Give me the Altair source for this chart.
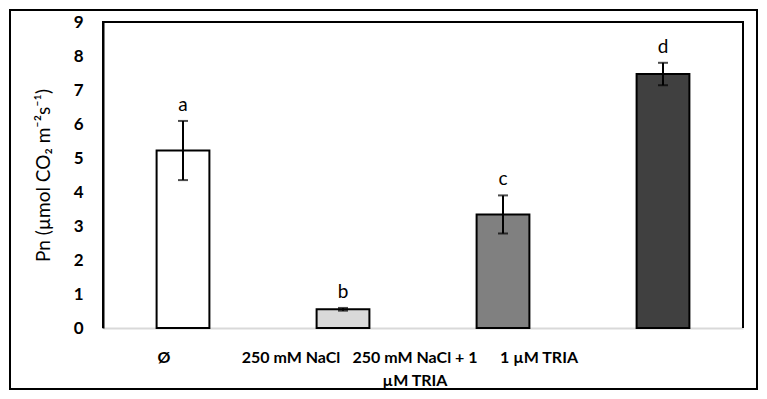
import altair as alt
import pandas as pd

categories = ["Ø", "250 mM NaCl", "250 mM NaCl + 1 µM TRIA", "1 µM TRIA"]
means = [5.22, 0.55, 3.34, 7.47]
errors = [0.87, 0.04, 0.56, 0.33]
letters = ["a", "b", "c", "d"]
fills = ["#ffffff", "#d9d9d9", "#808080", "#404040"]
y_ticks = [0, 1, 2, 3, 4, 5, 6, 7, 8, 9]

df = pd.DataFrame({
    "cat": categories,
    "mean": means,
    "err": errors,
    "letter": letters,
})
df["lo"] = df["mean"] - df["err"]
df["hi"] = df["mean"] + df["err"]

FONT = "Lato"

label_expr = ("datum.label == '250 mM NaCl + 1 µM TRIA' ? "
              "['250 mM NaCl + 1', 'µM TRIA'] : datum.label")

x_axis = alt.Axis(
    title=None,
    labelAngle=0,
    labelExpr=label_expr,
    labelFont=FONT,
    labelFontWeight="bold",
    labelFontSize=16,
    labelColor="#000000",
    labelPadding=21,
    labelLineHeight=23,
    labelOverlap=False,
    labelOffset={
        "condition": [
            {"test": "datum.value == 'Ø'", "value": -19},
            {"test": "datum.value == '250 mM NaCl'", "value": -52},
            {"test": "datum.value == '250 mM NaCl + 1 µM TRIA'", "value": -88},
        ],
        "value": -124,
    },
    ticks=False,
    domainColor="#d9d9d9",
    domainWidth=2,
)
x_scale = alt.Scale(paddingInner=0.67, paddingOuter=0.335)

y_axis = alt.Axis(
    title="Pn (µmol CO₂ m⁻²s⁻¹)",
    titleFont=FONT,
    titleFontSize=19,
    titleFontWeight="normal",
    titleColor="#000000",
    titlePadding=20,
    values=y_ticks,
    labelOverlap=False,
    labelFont=FONT,
    labelFontWeight="bold",
    labelFontSize=17,
    labelColor="#000000",
    labelPadding=20,
    ticks=False,
    grid=False,
    domain=True,
    domainColor="#000000",
    domainWidth=2,
)
y_scale = alt.Scale(domain=[0, 9], nice=False)


def xe():
    return alt.X("cat:N", sort=categories, scale=x_scale, axis=x_axis)


def ye(field):
    return alt.Y(field, type="quantitative", scale=y_scale, axis=y_axis)


# plot-area frame (top, right, left) as thin filled rectangles, drawn first
one = df[df["letter"] == "a"]
frame_top = alt.Chart(one).mark_rect(fill="#000000", strokeWidth=0, clip=False).encode(
    x=alt.value(-1), x2=alt.value(641), y=alt.value(-1), y2=alt.value(1)
)
frame_right = alt.Chart(one).mark_rect(fill="#000000", strokeWidth=0, clip=False).encode(
    x=alt.value(639), x2=alt.value(641), y=alt.value(-1), y2=alt.value(306)
)
frame_left = alt.Chart(one).mark_rect(fill="#000000", strokeWidth=0, clip=False).encode(
    x=alt.value(-1), x2=alt.value(1), y=alt.value(-1), y2=alt.value(306)
)

bars = alt.Chart(df).mark_bar(stroke="#000000", strokeWidth=2).encode(
    x=xe(),
    y=ye("mean"),
    fill=alt.Fill("cat:N", scale=alt.Scale(domain=categories, range=fills), legend=None),
)

rules = alt.Chart(df).mark_rule(color="#000000", strokeWidth=2).encode(
    x=xe(), y=ye("lo"), y2="hi:Q",
)

caps_hi = alt.Chart(df).mark_tick(color="#000000", thickness=2, size=10, orient="horizontal").encode(
    x=xe(), y=ye("hi"),
)
caps_lo = alt.Chart(df).mark_tick(color="#000000", thickness=2, size=10, orient="horizontal").encode(
    x=xe(), y=ye("lo"),
)

text = alt.Chart(df).mark_text(
    font=FONT, fontSize=19, color="#000000", baseline="bottom", dy=-6
).encode(
    x=xe(), y=ye("hi"), text="letter:N",
)

# decorative outer border
border = alt.Chart(one).mark_rect(
    fill=None, stroke="#000000", strokeWidth=2, clip=False
).encode(
    x=alt.value(-93), x2=alt.value(654), y=alt.value(-12), y2=alt.value(367)
)

chart = alt.layer(frame_top, frame_right, frame_left, bars, rules, caps_hi, caps_lo, text, border).properties(
    width=640,
    height=306,
    autosize=alt.AutoSizeParams(type="none"),
    padding={"left": 95, "top": 14, "right": 16, "bottom": 63},
    background="#ffffff",
).configure_view(stroke=None)

chart.save("out.html", embed_options={"renderer": "svg", "actions": False})
